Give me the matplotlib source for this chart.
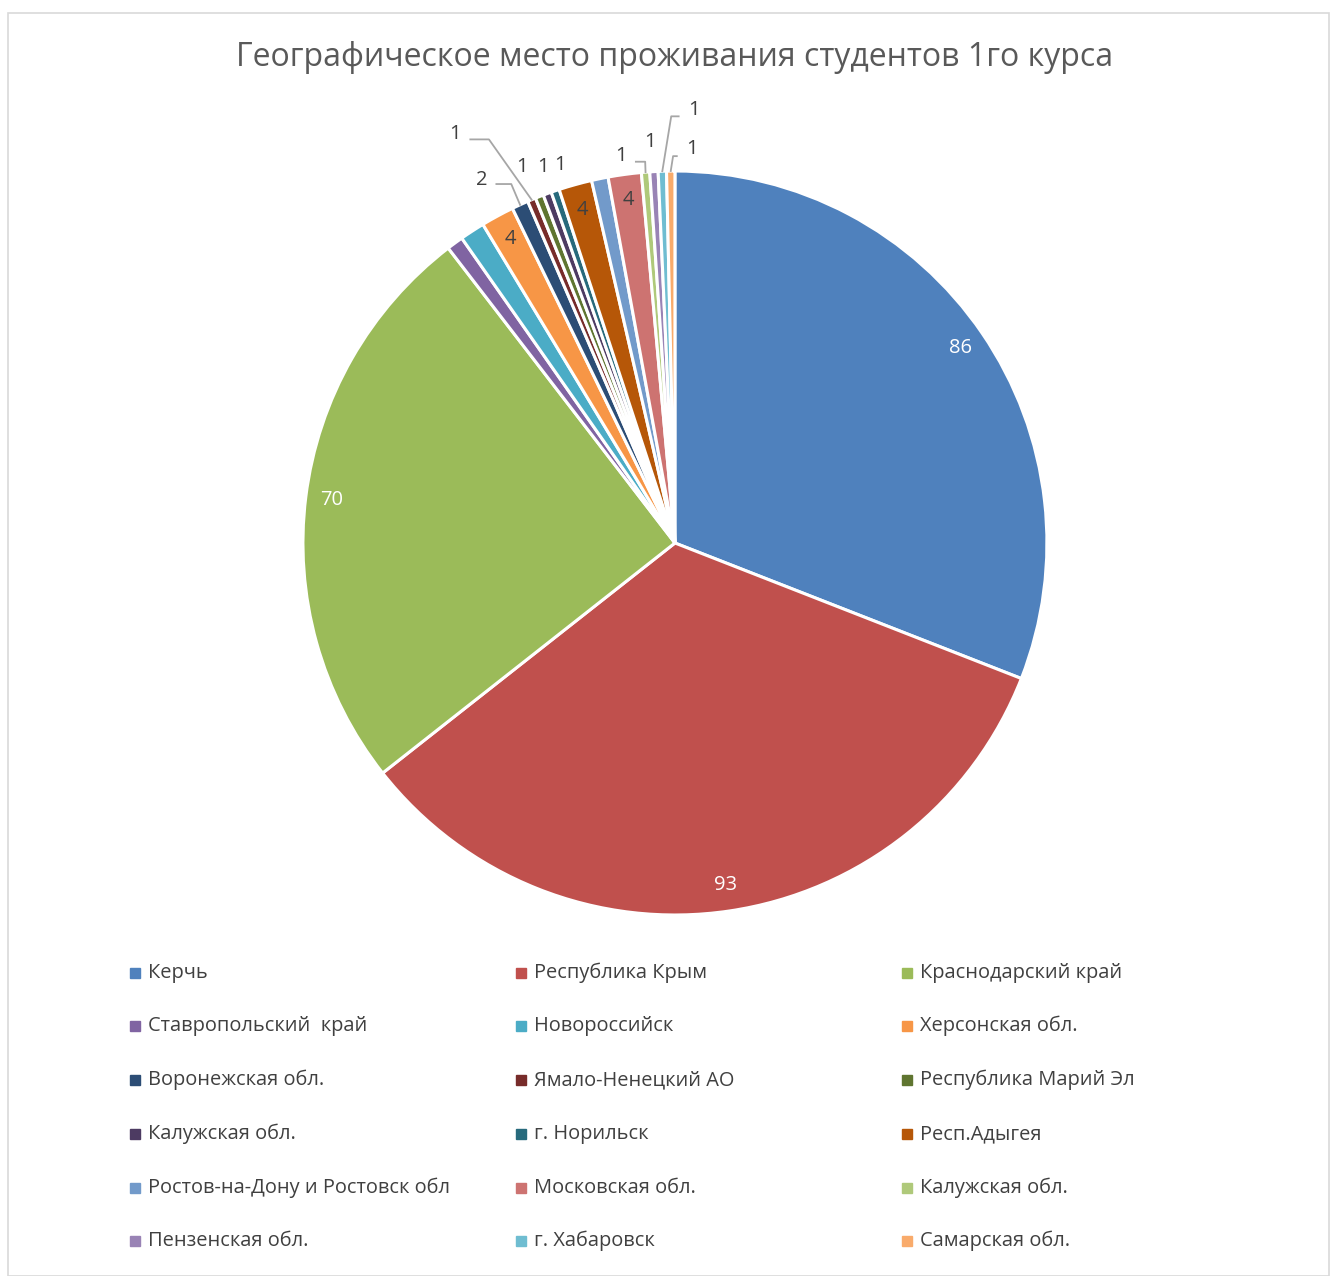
#!/usr/bin/env python3

import numpy as np
import matplotlib
matplotlib.use('Agg')
import matplotlib.pyplot as plt
from matplotlib.patches import Rectangle

plt.rcParams['font.family'] = ['Open Sans', 'DejaVu Sans']

TITLE = 'Географическое место проживания студентов 1го курса'

regions = ['Керчь', 'Республика Крым', 'Краснодарский край',
           'Ставропольский  край', 'Новороссийск', 'Херсонская обл.',
           'Воронежская обл.', 'Ямало-Ненецкий АО', 'Республика Марий Эл',
           'Калужская обл.', 'г. Норильск', 'Респ.Адыгея',
           'Ростов-на-Дону и Ростовск обл', 'Московская обл.', 'Калужская обл.',
           'Пензенская обл.', 'г. Хабаровск', 'Самарская обл.']
counts = [86, 93, 70, 2, 3, 4, 2, 1, 1, 1, 1, 4, 2, 4, 1, 1, 1, 1]
colors = ['#4F81BD', '#C0504D', '#9BBB59', '#8064A2', '#4BACC6', '#F79646',
          '#2C4D75', '#772C2A', '#5F7530', '#4D3B62', '#276A7C', '#B65708',
          '#729ACA', '#CD7371', '#AFC97A', '#9983B5', '#6FBDD1', '#F9AB6B']

# label style per slice: 'in' (inside), 'out' (outside, at given spot), None
# outside spots: (x, y) in pie units, elbow (x, y) or None
label_mode = ['in_w', 'in_w', 'in_w', None, None, 'in_d',
              'out', 'out', 'out', 'out', 'out', 'in_d',
              None, 'in_d', 'out', 'out', 'out', 'out']
out_pos = {6: ((-0.52, 0.975), (-0.44, 0.965)),
           7: ((-0.59, 1.10), (-0.50, 1.085)),
           8: ((-0.41, 1.01), None),
           9: ((-0.355, 1.01), None),
           10: ((-0.31, 1.015), None),
           14: ((-0.145, 1.04), (-0.08, 1.025)),
           15: ((-0.068, 1.077), None),
           16: ((0.05, 1.165), (-0.01, 1.147)),
           17: ((0.045, 1.058), (-0.005, 1.04))}

fig = plt.figure(figsize=(13.34, 12.76), dpi=100)
fig.add_artist(Rectangle((0.006, 0.0), 0.99, 0.99, transform=fig.transFigure,
                         fill=False, edgecolor='#D9D9D9', linewidth=1.2))

ax = fig.add_axes([0.2271, 0.2829, 0.5577, 0.5831])
wedges, _ = ax.pie(counts, colors=colors, startangle=90, counterclock=False,
                   wedgeprops=dict(edgecolor='white', linewidth=2.2))
ax.set_xlim(-1, 1)
ax.set_ylim(-1, 1)
ax.set_aspect('equal')

for i, w in enumerate(wedges):
    mode = label_mode[i]
    if mode is None:
        continue
    mid = np.deg2rad((w.theta1 + w.theta2) / 2)
    if mode.startswith('in'):
        r = 0.93
        c = 'white' if mode == 'in_w' else '#404040'
        ax.text(r * np.cos(mid), r * np.sin(mid), str(counts[i]),
                ha='center', va='center', fontsize=14.5, color=c)
    else:
        (tx, ty), elbow = out_pos[i]
        ax.text(tx, ty, str(counts[i]), ha='center', va='center',
                fontsize=14.5, color='#404040', clip_on=False)
        if elbow is not None:
            ex, ey = np.cos(mid) * 1.0, np.sin(mid) * 1.0
            sx = tx + (0.04 if elbow[0] > tx else -0.04)
            ax.plot([sx, elbow[0], ex], [elbow[1], elbow[1], ey],
                    color='#A6A6A6', linewidth=1.3, clip_on=False)

fig.text(0.506, 0.955, TITLE, ha='center', va='center', fontsize=23,
         color='#595959')

# legend, three per row
lax = fig.add_axes([0, 0, 1, 1])
lax.set_xlim(0, 1334)
lax.set_ylim(1276, 0)
lax.axis('off')
col_x = [135, 521, 907]
row_y = [973, 1026, 1080, 1134, 1188, 1241]
for i, name in enumerate(regions):
    x = col_x[i % 3]
    y = row_y[i // 3]
    lax.plot([x], [y], marker='s', markersize=6.5, color=colors[i],
             linestyle='none')
    lax.text(x + 13, y, name, ha='left', va='center', fontsize=14.4,
             color='#404040')

fig.savefig('out.png', dpi=100)
